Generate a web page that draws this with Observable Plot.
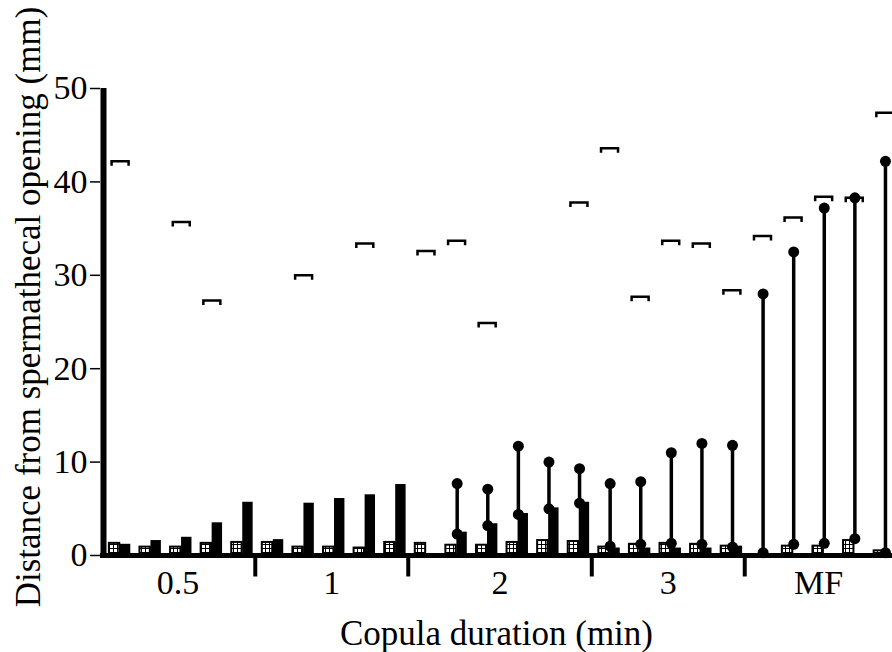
<!DOCTYPE html>
<html>
<head>
<meta charset="utf-8">
<script src="https://cdn.jsdelivr.net/npm/d3@7"></script>
<script src="https://cdn.jsdelivr.net/npm/@observablehq/plot@0.6"></script>
<style>
  html, body { margin: 0; padding: 0; background: #fff; }
  #chart svg { display: block; }
</style>
</head>
<body>
<div id="chart"></div>
<script>
// ---- data (one entry per female, left to right) ----
const groups = ["0.5", "1", "2", "3", "MF"];
const groupSizes = [5, 5, 6, 5, 5];
const hatched = [1.3, 0.9, 0.9, 1.3, 1.4,  1.4, 0.9, 0.9, 0.8, 1.4,  1.3, 1.1, 1.1, 1.4, 1.6, 1.5,  0.9, 1.2, 1.3, 1.2, 1.0,  null, 1.0, 1.0, 1.6, 0.5];
const solid   = [1.2, 1.6, 1.95, 3.5, 5.7,  1.7, 5.6, 6.1, 6.5, 7.6,  null, 2.5, 3.4, 4.5, 5.1, 5.7,  0.8, 0.8, 0.8, 0.8, 1.0,  null, null, null, null, null];
const rangeLow  = [null, null, null, null, null,  null, null, null, null, null,  null, 2.3, 3.2, 4.4, 5.0, 5.6,  1.0, 1.2, 1.3, 1.2, 0.9,  0.3, 1.2, 1.3, 1.8, 0.3];
const rangeHigh = [null, null, null, null, null,  null, null, null, null, null,  null, 7.7, 7.1, 11.7, 10.0, 9.3,  7.7, 7.9, 11.0, 12.0, 11.8,  28.0, 32.5, 37.2, 38.3, 42.2];
const bracket = [42.2, null, 35.7, 27.3, null,  null, 30.0, null, 33.4, null,  32.6, 33.7, 24.9, null, null, 37.8,  43.6, 27.7, 33.7, 33.4, 28.4,  34.2, 36.2, 38.4, 38.3, 47.4];
const yTicks = [0, 10, 20, 30, 40, 50];
const yTitle = "Distance from spermathecal opening (mm)";
const xTitle = "Copula duration (min)";

// ---- derived tables ----
const rows = hatched.map((h, i) => ({
  i, hatched: h, solid: solid[i], low: rangeLow[i], high: rangeHigh[i], bracket: bracket[i]
}));
const xMin = -0.46, xMax = 25.43;
let start = 0;
const groupRows = groups.map((g, k) => {
  const first = start, last = start + groupSizes[k] - 1;
  start = last + 1;
  return { label: g, first, last };
});
const seps = groupRows.slice(0, -1).map(g => ({ x: g.last + 0.6 }));
const bounds = [xMin, ...seps.map(s => s.x), xMax];
groupRows.forEach((g, k) => { g.center = (bounds[k] + bounds[k + 1]) / 2; });

const bracketSymbol = {
  draw(context) {
    context.moveTo(-8.5, 4.5);
    context.lineTo(-8.5, 0);
    context.lineTo(8.5, 0);
    context.lineTo(8.5, 4.5);
  }
};

const font = "'Liberation Serif', 'Times New Roman', serif";

const plot = Plot.plot({
  width: 892,
  height: 652,
  marginLeft: 100,
  marginRight: 0,
  marginTop: 88,
  marginBottom: 97,
  style: { fontFamily: font, fontSize: "34px", background: "white", color: "black" },
  x: { domain: [xMin, xMax], axis: null },
  y: { domain: [0, 50], axis: null },
  marks: [
    // black bars
    Plot.rect(rows.filter(d => d.solid != null), {
      x1: d => d.i + 0.19, x2: d => d.i + 0.53, y1: 0, y2: "solid", fill: "black"
    }),
    // hatched boxes
    Plot.rect(rows.filter(d => d.hatched != null), {
      x1: d => d.i - 0.17, x2: d => d.i + 0.17, y1: 0, y2: "hatched",
      fill: "url(#hatch)", stroke: "black", strokeWidth: 2
    }),
    // ranges
    Plot.link(rows.filter(d => d.low != null), {
      x1: d => d.i + 0.2, x2: d => d.i + 0.2, y1: "low", y2: "high",
      stroke: "black", strokeWidth: 3.5
    }),
    Plot.dot(rows.filter(d => d.low != null), { x: d => d.i + 0.2, y: "low", r: 5.5, fill: "black" }),
    Plot.dot(rows.filter(d => d.high != null), { x: d => d.i + 0.2, y: "high", r: 5.5, fill: "black" }),
    // brackets
    Plot.dot(rows.filter(d => d.bracket != null), {
      x: d => d.i + 0.18, y: "bracket", symbol: bracketSymbol,
      fill: "none", stroke: "black", strokeWidth: 2.5
    }),
    // baseline and y axis line
    Plot.ruleY([0], { stroke: "black", strokeWidth: 5 }),
    Plot.ruleX([xMin], { y1: 0, y2: 50, stroke: "black", strokeWidth: 6, dx: 3 }),
    // group separators
    Plot.ruleX(seps, { x: "x", y1: 0, y2: -2.3, stroke: "black", strokeWidth: 4 }),
    // group labels
    Plot.text(groupRows, { x: "center", y: 0, dy: 28, text: "label", fontSize: 34 }),
    // y axis ticks
    Plot.axisY(yTicks, { tickSize: 10, tickPadding: 3, strokeWidth: 1.5, label: null, fontSize: 34 }),
    // titles
    Plot.text([yTitle], { frameAnchor: "left", dx: -72, dy: -15, rotate: -90, fontSize: 35, textAnchor: "middle", lineAnchor: "middle" }),
    Plot.text([xTitle], { frameAnchor: "bottom", dy: 78, fontSize: 35, textAnchor: "middle", lineAnchor: "middle" })
  ]
});

// hatch pattern for the small boxes ("#"-like grid)
const defs = d3.select(plot).insert("defs", ":first-child");
const pat = defs.append("pattern")
  .attr("id", "hatch")
  .attr("patternUnits", "userSpaceOnUse")
  .attr("width", 4).attr("height", 4);
pat.append("rect").attr("width", 4).attr("height", 4).attr("fill", "white");
pat.append("path").attr("d", "M0,0.5H4M1.5,0V4").attr("stroke", "black").attr("stroke-width", 1);

document.getElementById("chart").appendChild(plot);
</script>
</body>
</html>
